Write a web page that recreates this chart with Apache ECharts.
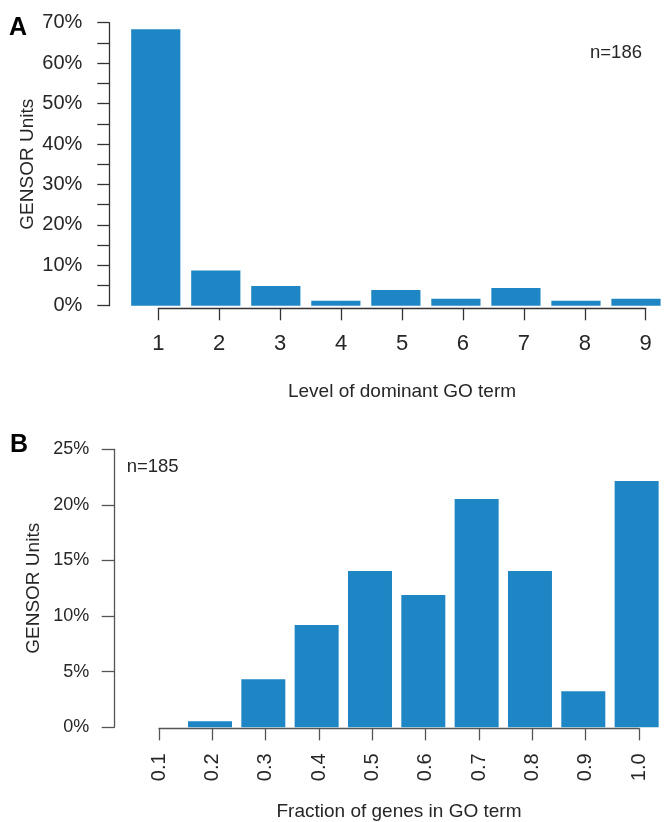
<!DOCTYPE html>
<html>
<head>
<meta charset="utf-8">
<script src="https://cdn.jsdelivr.net/npm/echarts@6/dist/echarts.min.js"></script>
<style>
html,body{margin:0;padding:0;background:#fff;}
#c{width:666px;height:822px;}
</style>
</head>
<body>
<div id="c"></div>
<script>
// Panel A: Level of dominant GO term
const levelsA = ['1', '2', '3', '4', '5', '6', '7', '8', '9'];
const percentA = [68.4, 8.7, 4.9, 1.2, 3.9, 1.7, 4.4, 1.2, 1.7];
const nLabelA = 'n=186';
// Panel B: Fraction of genes in GO term
const fractionsB = ['0.1', '0.2', '0.3', '0.4', '0.5', '0.6', '0.7', '0.8', '0.9', '1.0'];
const percentB = [0, 0.54, 4.32, 9.19, 14.05, 11.89, 20.54, 14.05, 3.24, 22.16];
const nLabelB = 'n=185';

const FONT = 'Liberation Sans, Arial, Helvetica, sans-serif';
const TXT = '#262626';
const BAR = '#1E86C4';

const chart = echarts.init(document.getElementById('c'), null, {renderer: 'canvas'});

const A_TOP = 22.7, A_BOT = 822 - 305.7;
const B_TOP = 449.3, B_BOT = 822 - 727.3;

const option = {
  backgroundColor: '#ffffff',
  animation: false,
  grid: [
    {left: 125.75, width: 548.1, top: A_TOP, bottom: A_BOT},
    {left: 158.3, width: 487.4, top: A_TOP, bottom: 822 - 308.3},
    {left: 130, width: 533.3, top: B_TOP, bottom: B_BOT},
    {left: 159, width: 480, top: B_TOP, bottom: 822 - 731.7}
  ],
  xAxis: [
    {gridIndex: 0, type: 'category', data: levelsA, show: false},
    {gridIndex: 1, type: 'category', data: levelsA, boundaryGap: false,
      axisLine: {onZero: false, lineStyle: {color: '#333', width: 1.3}},
      axisTick: {show: true, length: 12, interval: 0, lineStyle: {color: '#333', width: 1.3}},
      axisLabel: {interval: 0, margin: 24.5, fontSize: 22, color: TXT, fontFamily: FONT},
      name: 'Level of dominant GO term', nameLocation: 'middle', nameGap: 74, nameMoveOverlap: false,
      nameTextStyle: {fontSize: 19, color: TXT, fontFamily: FONT}
    },
    {gridIndex: 2, type: 'category', data: fractionsB, show: false},
    {gridIndex: 3, type: 'category', data: fractionsB, boundaryGap: false,
      axisLine: {onZero: false, lineStyle: {color: '#555', width: 1.3}},
      axisTick: {show: true, length: 12, interval: 0, lineStyle: {color: '#555', width: 1.3}},
      axisLabel: {interval: 0, margin: 25, rotate: 90, fontSize: 20, color: TXT, fontFamily: FONT},
      name: 'Fraction of genes in GO term', nameLocation: 'middle', nameGap: 73.6, nameMoveOverlap: false,
      nameTextStyle: {fontSize: 19, color: TXT, fontFamily: FONT}
    }
  ],
  yAxis: [
    {gridIndex: 0, type: 'value', min: 0, max: 70, interval: 5, offset: 16.45,
      splitLine: {show: false},
      axisLine: {show: true, lineStyle: {color: '#333', width: 1.3}},
      axisTick: {show: true, length: 12, lineStyle: {color: '#333', width: 1.3}},
      axisLabel: {margin: 27, fontSize: 20, color: TXT, fontFamily: FONT,
        formatter: v => (v % 10 === 0 ? v + '%' : '')},
      name: 'GENSOR Units', nameLocation: 'middle', nameGap: 72, nameRotate: 90, nameMoveOverlap: false,
      nameTextStyle: {fontSize: 19, color: TXT, fontFamily: FONT}
    },
    {gridIndex: 1, type: 'value', min: 0, max: 70, show: false},
    {gridIndex: 2, type: 'value', min: 0, max: 25, interval: 5, offset: 15.7,
      splitLine: {show: false},
      axisLine: {show: true, lineStyle: {color: '#555', width: 1.3}},
      axisTick: {show: true, length: 12.6, lineStyle: {color: '#555', width: 1.3}},
      axisLabel: {margin: 25, fontSize: 18, color: TXT, fontFamily: FONT,
        formatter: v => v + '%'},
      name: 'GENSOR Units', nameLocation: 'middle', nameGap: 70.6, nameRotate: 90, nameMoveOverlap: false,
      nameTextStyle: {fontSize: 19, color: TXT, fontFamily: FONT}
    },
    {gridIndex: 3, type: 'value', min: 0, max: 25, show: false}
  ],
  series: [
    {type: 'bar', xAxisIndex: 0, yAxisIndex: 0, data: percentA, barWidth: 49.2,
      itemStyle: {color: BAR}},
    {type: 'bar', xAxisIndex: 2, yAxisIndex: 2, data: percentB, barWidth: 44,
      itemStyle: {color: BAR}}
  ],
  graphic: [
    {type: 'text', left: 9, top: 16, style: {text: 'A', fontSize: 25, fontWeight: 'bold', fill: '#000', fontFamily: FONT}},
    {type: 'text', left: 10, top: 433, style: {text: 'B', fontSize: 25, fontWeight: 'bold', fill: '#000', fontFamily: FONT}},
    {type: 'text', left: 590, top: 43, style: {text: nLabelA, fontSize: 18.5, fill: TXT, fontFamily: FONT}},
    {type: 'text', left: 126.7, top: 457, style: {text: nLabelB, fontSize: 18.5, fill: TXT, fontFamily: FONT}}
  ]
};
chart.setOption(option);
</script>
</body>
</html>
